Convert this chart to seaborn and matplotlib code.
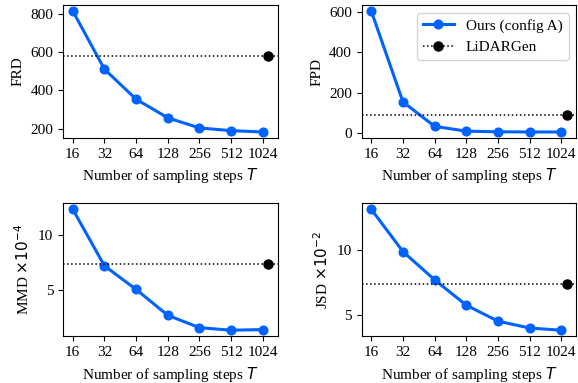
import numpy as np
import pandas as pd
import seaborn as sns
import matplotlib.pyplot as plt

steps = [16, 32, 64, 128, 256, 512, 1024]
frd = [814, 510, 353, 256, 203, 189, 182]
fpd = [605, 154, 33, 9, 6, 5, 5]
mmd = [12.27, 7.18, 5.06, 2.73, 1.62, 1.39, 1.45]
jsd = [13.17, 9.90, 7.72, 5.76, 4.53, 4.00, 3.83]

# LiDARGen reference values (drawn just right of T=1024)
lidargen_x = 1146
lidargen = {'FRD': 579, 'FPD': 88, 'MMD': 7.39, 'JSD': 7.38}

ylabels = {'FRD': 'FRD', 'FPD': 'FPD',
           'MMD': r'MMD $\times10^{-4}$', 'JSD': r'JSD $\times10^{-2}$'}

df = pd.DataFrame({'T': steps, 'FRD': frd, 'FPD': fpd, 'MMD': mmd, 'JSD': jsd})

plt.rcParams['font.family'] = ['Liberation Serif', 'DejaVu Serif']
plt.rcParams['font.size'] = 11
plt.rcParams['mathtext.fontset'] = 'dejavusans'

blue = '#0062ff'

fig, axes = plt.subplots(2, 2, figsize=(5.78, 3.83), dpi=100)
for ax, key in zip(axes.flat, ['FRD', 'FPD', 'MMD', 'JSD']):
    sns.lineplot(data=df, x='T', y=key, ax=ax, color=blue, marker='o',
                 markersize=6.5, linewidth=2.2, markeredgecolor=blue,
                 label='Ours (config A)')
    ax.axhline(lidargen[key], color='black', ls=':', lw=1.1)
    ax.plot([lidargen_x], [lidargen[key]], marker='o', ls=':', color='black',
            markersize=6.5, lw=1.1, label='LiDARGen')
    ax.set_xscale('log', base=2)
    ax.set_xticks(steps)
    ax.set_xticklabels([str(s) for s in steps])
    ax.minorticks_off()
    ax.set_xlabel('Number of sampling steps $T$')
    ax.set_ylabel(ylabels[key])
    if key == 'FPD':
        ax.legend(loc='upper right', fontsize=11, framealpha=0.8)
    else:
        ax.get_legend().remove()

axes[0, 0].set_yticks([200, 400, 600, 800])
axes[0, 1].set_yticks([0, 200, 400, 600])
axes[1, 0].set_yticks([5, 10])
axes[1, 1].set_yticks([5, 10])

plt.subplots_adjust(left=0.109, right=0.997, top=0.987, bottom=0.122,
                    wspace=0.39, hspace=0.49)
plt.savefig('out.png', dpi=100)
